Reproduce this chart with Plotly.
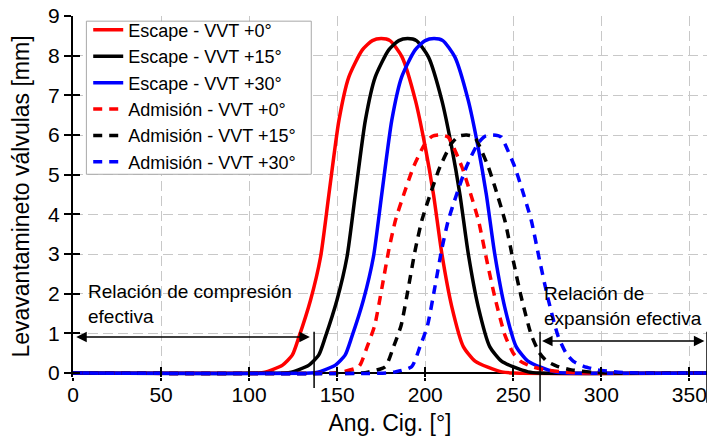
import plotly.graph_objects as go

# ---------------- data ----------------
# Escape (exhaust) lift curves
esc_y = [0, 0, 0.02, 0.08, 0.2, 0.45, 0.91, 1.84, 2.93, 4.5, 6.37, 7.46, 8.14, 8.38, 8.43,
         8.38, 7.97, 6.88, 5.70, 4.5, 3.02, 1.67, 0.66, 0.30, 0.14, 0.03, 0, 0]
esc0_x = [0, 105, 109, 113, 119, 124.5, 128.3, 134.9, 140.6, 145.3, 151, 156.6, 164.2, 170, 175,
          180, 186.8, 194.4, 200, 204.7, 209.4, 215.1, 221.7, 228.3, 235.9, 243.4, 250, 360]
esc15_x = [0, 120, 124, 128, 134, 139.5, 143.3, 149.9, 155.6, 160.3, 166, 171.6, 179.2, 185, 190,
           195, 201.8, 209.4, 215, 219.7, 224.4, 230.1, 236.7, 243.3, 250.9, 258.4, 265, 360]
esc30_x = [0, 135, 139, 143, 149, 154.5, 158.3, 164.9, 170.6, 175.3, 181, 186.6, 194.2, 200, 205,
           210, 216.8, 224.4, 230, 234.7, 239.4, 245.1, 251.7, 258.3, 265.9, 273.4, 280, 360]

# Admision (intake) lift curves
adm_y = [0, 0, 0.03, 0.16, 0.66, 1.2, 2.17, 3.1, 3.85, 4.5, 5.2, 5.79, 5.97, 6.0, 5.95, 5.79,
         5.2, 4.7, 3.85, 2.85, 1.9, 0.95, 0.5, 0.3, 0.17, 0.08, 0.02, 0, 0]
adm0_x = [0, 148, 153, 162.3, 167, 171.3, 175.5, 179.3, 183.1, 187.8, 193.4, 200, 204, 208.5,
          213, 215.1, 220.8, 224.5, 230.2, 234.9, 239.6, 245.3, 250, 254, 260, 268, 280, 290, 360]
adm15_x = [0, 163, 168, 177.3, 182, 186.3, 190.5, 194.3, 198.1, 202.8, 208.4, 215, 219, 223.5,
           228, 230.1, 235.8, 239.5, 245.2, 249.9, 254.6, 260.3, 265, 269, 275, 283, 295, 305, 360]
adm30_x = [0, 178, 183, 192.3, 197, 201.3, 205.5, 209.3, 213.1, 217.8, 223.4, 230, 234, 238.5,
           243, 245.1, 250.8, 254.5, 260.2, 264.9, 269.6, 275.3, 280, 284, 290, 298, 310, 320, 360]

names = ["Escape - VVT +0°", "Escape - VVT +15°", "Escape - VVT +30°",
         "Admisión - VVT +0°", "Admisión - VVT +15°", "Admisión - VVT +30°"]
colors = ["#ff0000", "#000000", "#0000ff", "#ff0000", "#000000", "#0000ff"]

x_ticks = [0, 50, 100, 150, 200, 250, 300, 350]
y_ticks = [0, 1, 2, 3, 4, 5, 6, 7, 8, 9]
x_range = [0, 360]
y_range = [-0.1, 9]

# annotation geometry (data units)
comp_arrow = dict(x0=1, x1=134.5, y=0.91)
exp_arrow = dict(x0=265.5, x1=358.5, y=0.81)
markers = [(136.9, 1.04, -0.38), (265.2, 1.04, -0.72), (360, 1.04, -0.75)]
legend_box = dict(x0=7.6, x1=135.3, y0=5.01, y1=8.87)

FONT = "Liberation Sans, Arial, sans-serif"

fig = go.Figure()
series = [(esc0_x, esc_y), (esc15_x, esc_y), (esc30_x, esc_y),
          (adm0_x, adm_y), (adm15_x, adm_y), (adm30_x, adm_y)]
for i, ((xs, ys), nm, c) in enumerate(zip(series, names, colors)):
    dash = "solid" if i < 3 else "9px,7px"
    fig.add_trace(go.Scatter(x=xs, y=ys, mode="lines", name=nm,
                             line=dict(color=c, width=3.5, dash=dash, shape="spline", smoothing=0.6)))

# dummy trace for overlay axes (crossing ticks)
fig.add_trace(go.Scatter(x=[None], y=[None], xaxis="x2", yaxis="y2", showlegend=False,
                         hoverinfo="skip"))

def py(v):
    return (v - y_range[0]) / (y_range[1] - y_range[0])

shapes = [dict(type="rect", xref="x", yref="y", layer="between",
               x0=legend_box["x0"], x1=legend_box["x1"], y0=legend_box["y0"], y1=legend_box["y1"],
               fillcolor="white", line=dict(color="#a8a8a8", width=1))]
for (xv, ytop, ybot) in markers:
    shapes.append(dict(type="line", xref="x", yref="paper", x0=xv, x1=xv,
                       y0=py(ybot), y1=py(ytop), line=dict(color="black", width=1.5)))

annotations = []
for a in (comp_arrow, exp_arrow):
    annotations.append(dict(x=a["x1"], y=a["y"], ax=a["x0"], ay=a["y"], xref="x", yref="y",
                            axref="x", ayref="y", text="", showarrow=True,
                            arrowhead=2, startarrowhead=2, arrowside="end+start",
                            arrowsize=1.4, arrowwidth=1.5, arrowcolor="black",
                            standoff=0, startstandoff=0))
annotations.append(dict(x=7.6, y=1.73, xref="x", yref="y", xanchor="left", yanchor="middle",
                        align="left", showarrow=False,
                        text="Relación de compresión<br>efectiva",
                        font=dict(family=FONT, size=19, color="black")))
annotations.append(dict(x=266.3, y=1.69, xref="x", yref="y", xanchor="left", yanchor="middle",
                        align="left", showarrow=False,
                        text="Relación de<br>expansión efectiva",
                        font=dict(family=FONT, size=19, color="black")))

fig.update_layout(
    width=710, height=440,
    margin=dict(l=73, r=3, t=16, b=63),
    paper_bgcolor="white", plot_bgcolor="white",
    font=dict(family=FONT, size=21, color="black"),
    showlegend=True,
    legend=dict(x=0.024, y=1.012, xanchor="left", yanchor="top",
                bgcolor="rgba(0,0,0,0)", borderwidth=0,
                font=dict(family=FONT, size=18, color="black"),
                tracegroupgap=0),
    xaxis=dict(range=x_range, tickvals=x_ticks, ticks="inside", ticklen=10, tickwidth=2,
               tickcolor="black", showline=False, zeroline=False, ticklabelstandoff=3,
               showgrid=True, gridcolor="#c8c8c8", gridwidth=1, griddash="10px,5px",
               title=dict(text="Ang. Cig. [°]", font=dict(size=23), standoff=9),
               tickfont=dict(size=21)),
    yaxis=dict(range=y_range, tickvals=y_ticks, ticks="outside", ticklen=7, tickwidth=2,
               tickcolor="black", showline=True, linecolor="black", linewidth=2,
               zeroline=True, zerolinecolor="black", zerolinewidth=2,
               showgrid=True, gridcolor="#c8c8c8", gridwidth=1, griddash="10px,5px",
               title=dict(text="Levavantamineto válvulas [mm]", font=dict(size=23), standoff=12),
               tickfont=dict(size=21)),
    xaxis2=dict(overlaying="x", anchor="y", side="bottom", range=x_range, tickvals=x_ticks,
                ticks="outside", ticklen=3, tickwidth=2, tickcolor="black",
                showticklabels=False, showgrid=False, showline=False, zeroline=False),
    yaxis2=dict(overlaying="y", anchor="x", side="left", range=y_range, tickvals=y_ticks,
                ticks="inside", ticklen=7, tickwidth=2, tickcolor="black",
                showticklabels=False, showgrid=False, showline=False, zeroline=False),
    shapes=shapes,
    annotations=annotations,
)

fig.write_html("out.html")
